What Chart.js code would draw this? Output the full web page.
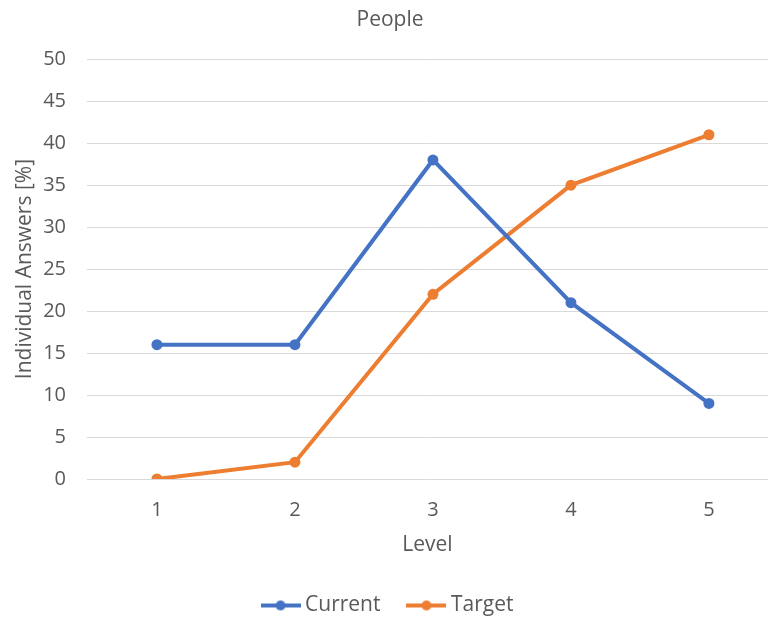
<!DOCTYPE html>
<html>
<head>
<meta charset="utf-8">
<script src="https://cdn.jsdelivr.net/npm/chart.js@4/dist/chart.umd.min.js"></script>
<style>
  html, body { margin: 0; padding: 0; background: #fff; }
  #wrap { width: 768px; height: 622px; }
</style>
</head>
<body>
<div id="wrap"><canvas id="peopleChart"></canvas></div>
<script>
const levels = [1, 2, 3, 4, 5];
const currentValues = [16, 16, 38, 21, 9];
const targetValues = [0, 2, 22, 35, 41];
const yTicks = [0, 5, 10, 15, 20, 25, 30, 35, 40, 45, 50];

const BLUE = '#4472C4';
const ORANGE = '#ED7D31';
const TEXT = '#595959';
const FONT = "'Open Sans', 'Noto Sans', sans-serif";

// legend marker: short line with a dot in the middle
function legendMarker(color) {
    const c = document.createElement('canvas');
    c.width = 40;
    c.height = 12;
    const g = c.getContext('2d');
    g.strokeStyle = color;
    g.lineWidth = 4;
    g.beginPath();
    g.moveTo(0, 6);
    g.lineTo(40, 6);
    g.stroke();
    g.fillStyle = color;
    g.beginPath();
    g.arc(20, 6, 5, 0, Math.PI * 2);
    g.fill();
    return c;
}

function toPoints(values) {
    return values.map((v, i) => ({ x: levels[i], y: v }));
}

const ctx = document.getElementById('peopleChart').getContext('2d');

new Chart(ctx, {
    type: 'line',
    data: {
        datasets: [{
            label: 'Current',
            data: toPoints(currentValues),
            borderColor: BLUE,
            backgroundColor: BLUE,
            borderWidth: 4,
            pointRadius: 5.5,
            pointBorderWidth: 0
        }, {
            label: 'Target',
            data: toPoints(targetValues),
            borderColor: ORANGE,
            backgroundColor: ORANGE,
            borderWidth: 4,
            pointRadius: 5.5,
            pointBorderWidth: 0
        }]
    },
    options: {
        responsive: true,
        maintainAspectRatio: false,
        animation: false,
        layout: { autoPadding: false, padding: { left: 12, right: 0, top: 0, bottom: -4 } },
        plugins: {
            title: {
                display: true,
                text: 'People',
                color: TEXT,
                font: { family: FONT, size: 21, weight: 'normal' },
                padding: { top: 7, bottom: 27 }
            },
            legend: {
                position: 'bottom',
                labels: {
                    color: TEXT,
                    font: { family: FONT, size: 21 },
                    usePointStyle: true,
                    pointStyleWidth: 28,
                    padding: 32,
                    generateLabels: function (chart) {
                        return chart.data.datasets.map((ds, i) => ({
                            text: ds.label,
                            fontColor: TEXT,
                            pointStyle: legendMarker(ds.borderColor),
                            datasetIndex: i,
                            hidden: false,
                            lineWidth: 0
                        }));
                    }
                }
            },
            tooltip: { enabled: false }
        },
        scales: {
            x: {
                type: 'linear',
                min: 0.493,
                max: 5.428,
                afterBuildTicks: function (axis) {
                    axis.ticks = levels.map(v => ({ value: v }));
                },
                afterFit: function (axis) {
                    axis.height = 84;
                },
                grid: { display: false },
                border: { display: false },
                ticks: {
                    color: TEXT,
                    font: { family: FONT, size: 20 },
                    padding: 11
                },
                title: {
                    display: true,
                    text: 'Level',
                    color: TEXT,
                    font: { family: FONT, size: 21 },
                    padding: { top: 2, bottom: 5 }
                }
            },
            y: {
                min: 0,
                max: 50,
                afterBuildTicks: function (axis) {
                    axis.ticks = yTicks.map(v => ({ value: v }));
                },
                afterFit: function (axis) {
                    axis.width = 75;
                },
                grid: {
                    color: '#d9d9d9',
                    lineWidth: 1,
                    drawTicks: false
                },
                border: { display: false },
                ticks: {
                    color: TEXT,
                    font: { family: FONT, size: 20 },
                    padding: 21
                },
                title: {
                    display: true,
                    text: 'Individual Answers [%]',
                    color: TEXT,
                    font: { family: FONT, size: 21 },
                    padding: { top: 0, bottom: 0 }
                }
            }
        }
    }
});
</script>
</body>
</html>
